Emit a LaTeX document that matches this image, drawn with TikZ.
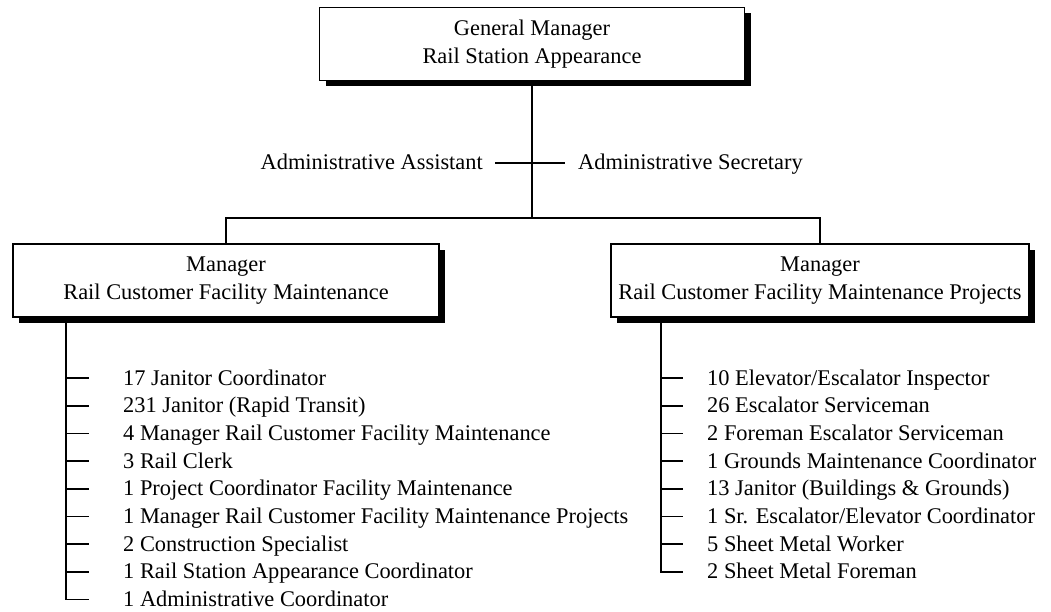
\documentclass[tikz,border=0pt]{standalone}
\usepackage{fontspec}
\setmainfont{Liberation Serif}
\usetikzlibrary{shadows}

\begin{document}
\begin{tikzpicture}[x=1pt, y=-1pt,
    every node/.style={font=\fontsize{22.4}{27.7}\selectfont},
    mgrbox/.style={draw=black, line width=1.6pt, fill=white, align=center, minimum height=73pt, inner sep=0pt,
        drop shadow={shadow xshift=6pt, shadow yshift=-6pt, opacity=1, fill=black}},
    post/.style={inner sep=0pt, text height=16pt, text depth=2pt},
    link/.style={line width=1.7pt}
]
\useasboundingbox (0,0) rectangle (1051,612);

% managers
\node[mgrbox, minimum width=425pt] (gm) at (532,44) {General Manager\\Rail Station Appearance};
\node[mgrbox, minimum width=426pt] (rcfm) at (226,280.5) {Manager\\Rail Customer Facility Maintenance};
\node[mgrbox, minimum width=418pt] (rcfmp) at (820,280.5) {Manager\\Rail Customer Facility Maintenance Projects};

% staff
\node[post, anchor=east] (asst) at (483,163) {Administrative Assistant};
\node[post, anchor=west] (secr) at (578,163) {Administrative Secretary};
\draw[link] ([xshift=12pt]asst.east) -- ([xshift=-13pt]secr.west);

\coordinate (bar) at (532,218);
\draw[link] (gm.south) -- (bar);
\draw[link] (rcfm.north) |- (bar) -| (rcfmp.north);

% left list
\coordinate (ltrunk) at ([xshift=54pt]rcfm.south west);
\foreach \role [count=\i] in {{17 Janitor Coordinator}, {231 Janitor (Rapid Transit)},
    {4 Manager Rail Customer Facility Maintenance}, {3 Rail Clerk},
    {1 Project Coordinator Facility Maintenance}, {1 Manager Rail Customer Facility Maintenance Projects},
    {2 Construction Specialist}, {1 Rail Station Appearance Coordinator}, {1 Administrative Coordinator}}
    \node[post, anchor=west] (L\i) at (123,350.3+27.7*\i) {\role};
\foreach \i in {1,...,8}
    \draw[link] (ltrunk |- L\i.west) -- ([xshift=-34pt]L\i.west);
\draw[link] (ltrunk) |- ([xshift=-34pt]L9.west);

% right list
\coordinate (rtrunk) at ([xshift=51pt]rcfmp.south west);
\foreach \role [count=\i] in {{10 Elevator/Escalator Inspector}, {26 Escalator Serviceman},
    {2 Foreman Escalator Serviceman}, {1 Grounds Maintenance Coordinator},
    {13 Janitor (Buildings \& Grounds)}, {1 Sr. Escalator/Elevator Coordinator},
    {5 Sheet Metal Worker}, {2 Sheet Metal Foreman}}
    \node[post, anchor=west] (R\i) at (707,350.3+27.7*\i) {\role};
\foreach \i in {1,...,7}
    \draw[link] (rtrunk |- R\i.west) -- ([xshift=-24pt]R\i.west);
\draw[link] (rtrunk) |- ([xshift=-24pt]R8.west);
\end{tikzpicture}
\end{document}
